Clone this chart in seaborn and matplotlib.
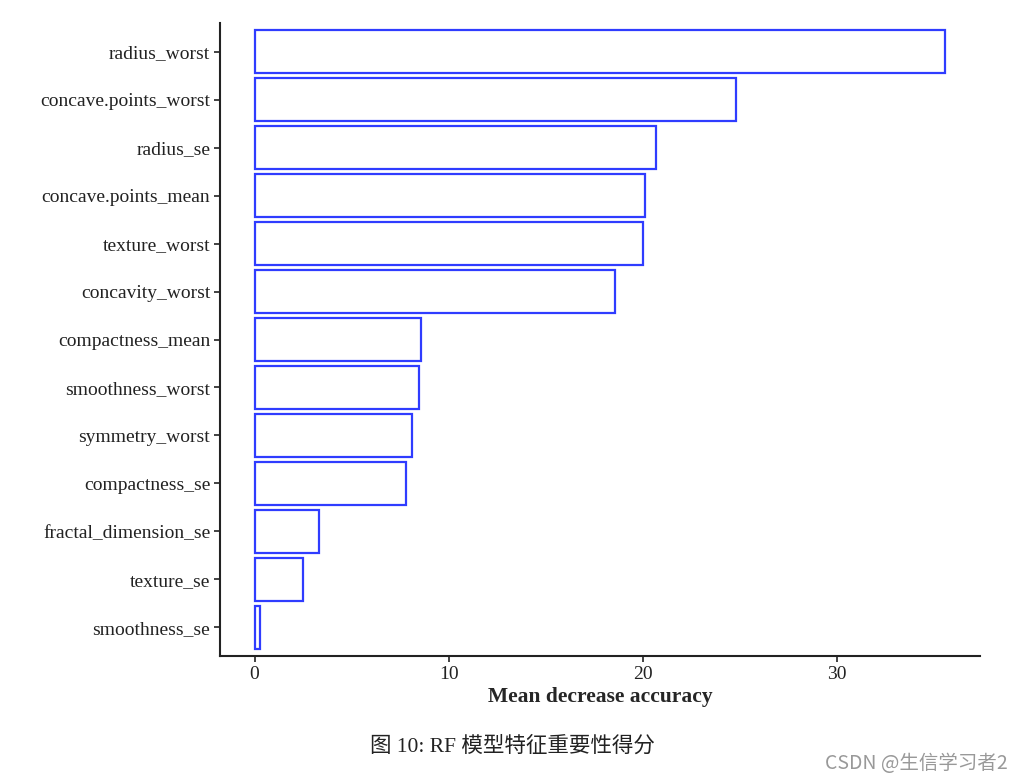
import matplotlib
matplotlib.use("Agg")
import matplotlib.pyplot as plt
import seaborn as sns
import pandas as pd

features = ["radius_worst", "concave.points_worst", "radius_se", "concave.points_mean",
            "texture_worst", "concavity_worst", "compactness_mean", "smoothness_worst",
            "symmetry_worst", "compactness_se", "fractal_dimension_se", "texture_se",
            "smoothness_se"]
importance = [35.6, 24.8, 20.7, 20.1, 20.0, 18.6, 8.6, 8.5, 8.1, 7.8, 3.3, 2.5, 0.3]

df = pd.DataFrame({"feature": features, "importance": importance})

sns.set_style("white")
plt.rcParams['font.family'] = ['Liberation Serif', 'Noto Sans CJK SC', 'DejaVu Sans']

fig = plt.figure(figsize=(10.24, 7.82), dpi=100)
ax = fig.add_axes([0.2148, 0.1611, 0.7422, 0.8095])

sns.barplot(data=df, x="importance", y="feature", orient="h", order=features,
            color="white", edgecolor="#2f3cff", linewidth=1.6, width=0.9, ax=ax)

ax.set_xlim(-1.78, 37.38)
ax.set_ylim(12.6, -0.6)
ax.set_xticks([0, 10, 20, 30])
ax.set_xticklabels(["0", "10", "20", "30"])
ax.set_xlabel("Mean decrease accuracy", fontsize=15.5, fontweight="bold", labelpad=3)
ax.set_ylabel("")
for s in ["top", "right"]:
    ax.spines[s].set_visible(False)
for s in ["left", "bottom"]:
    ax.spines[s].set_linewidth(1.5)
    ax.spines[s].set_color("#222222")
ax.tick_params(axis="both", which="both", length=4, width=1.2, color="#222222",
               labelsize=14, labelcolor="#222222", left=True, bottom=True, pad=3)

fig.text(0.5, 0.045, "图 10: RF 模型特征重要性得分", ha="center", va="center",
         fontsize=15.5, family=['Liberation Serif', 'Noto Sans CJK SC'], color="#222222")
fig.text(0.984, 0.024, "CSDN @生信学习者2", ha="right", va="center",
         fontsize=14, family=['Noto Sans CJK SC', 'DejaVu Sans'], color="#999999")

fig.savefig("out.png", dpi=100, facecolor="white")
